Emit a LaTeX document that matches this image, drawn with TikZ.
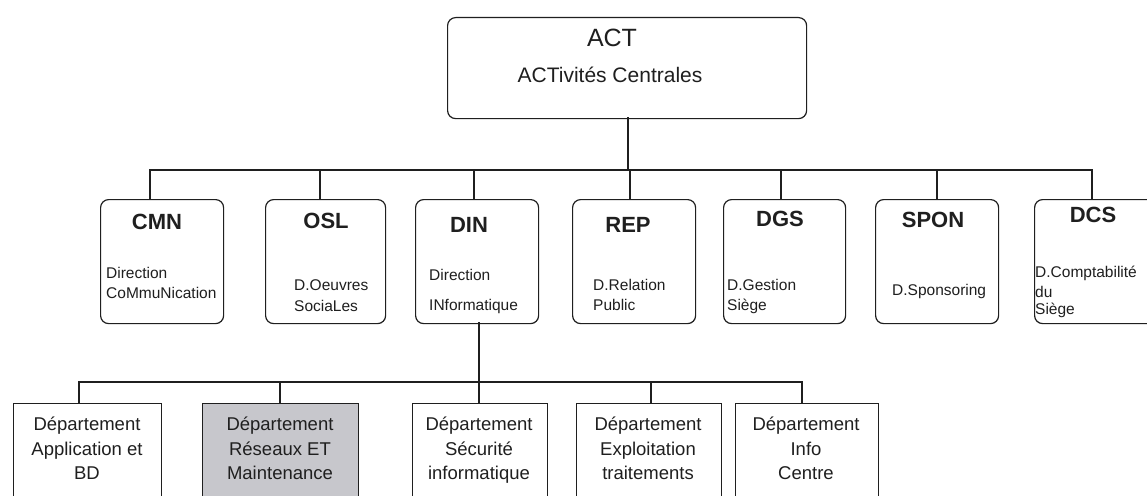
\documentclass[tikz,border=0pt]{standalone}
\usepackage{fontspec}
\setmainfont{Liberation Sans}
\definecolor{inkline}{rgb}{0.12,0.12,0.12}
\definecolor{shade}{rgb}{0.78,0.78,0.80}
\begin{document}
\begin{tikzpicture}[x=1pt,y=-1pt,
  conn/.style={draw=inkline, line width=1.7pt, line cap=rect},
  orgbox/.style={draw=inkline, line width=1.2pt, rounded corners=8pt, inner sep=0pt, anchor=north west},
  deptbox/.style={draw=inkline, line width=1.1pt, inner sep=0pt, anchor=north west},
  headfont/.style={font=\fontsize{25}{30}\selectfont, text=inkline, inner sep=0pt, anchor=base},
  headsub/.style={font=\fontsize{21}{25}\selectfont, text=inkline, inner sep=0pt, anchor=base},
  title/.style={font=\bfseries\fontsize{22}{26}\selectfont, text=inkline, inner sep=0pt, anchor=base},
  sub/.style={font=\fontsize{15.5}{19}\selectfont, text=inkline, inner sep=0pt, anchor=base west},
  dept/.style={font=\fontsize{18.5}{24}\selectfont, text=inkline, inner sep=0pt, anchor=base}
]
\useasboundingbox (0,0) rectangle (1147,495);
\clip (0,0) rectangle (1147,495);
\fill[white] (0,0) rectangle (1147,495);

% ---- top level ----
\node[orgbox, minimum width=359pt, minimum height=101pt] (act) at (447,17) {};
\node[headfont] (actT) at (612,47) {ACT};
\node[headsub] (actS) at (610,82) {ACTivités Centrales};
\coordinate (act-out) at (628,118);

% ---- directions ----
\node[orgbox, minimum width=123pt, minimum height=124pt] (cmn)  at (100,199) {};
\node[orgbox, minimum width=120pt, minimum height=124pt] (osl)  at (265,199) {};
\node[orgbox, minimum width=123pt, minimum height=124pt] (din)  at (415,199) {};
\node[orgbox, minimum width=123pt, minimum height=124pt] (rep)  at (572,199) {};
\node[orgbox, minimum width=122pt, minimum height=124pt] (dgs)  at (723,199) {};
\node[orgbox, minimum width=123pt, minimum height=124pt] (spon) at (875,199) {};
\node[orgbox, minimum width=125pt, minimum height=124pt] (dcs)  at (1034,199) {};

\coordinate (cmn-in)  at (150,199);
\coordinate (osl-in)  at (320,199);
\coordinate (din-in)  at (474,199);
\coordinate (rep-in)  at (630,199);
\coordinate (dgs-in)  at (781,199);
\coordinate (spon-in) at (937,199);
\coordinate (dcs-in)  at (1092,199);
\coordinate (din-out) at (479,323);
\coordinate (busA) at (0,170);
\coordinate (busB) at (0,382);

\node[title] (cmnT)  at (157,229) {CMN};
\node[sub]   (cmnA)  at (106,278) {Direction};
\node[sub]   (cmnB)  at (106,298) {CoMmuNication};

\node[title] (oslT)  at (326,228) {OSL};
\node[sub]   (oslA)  at (294,290) {D.Oeuvres};
\node[sub]   (oslB)  at (294,311) {SociaLes};

\node[title] (dinT)  at (469,232) {DIN};
\node[sub]   (dinA)  at (429,280) {Direction};
\node[sub]   (dinB)  at (429,310) {INformatique};

\node[title] (repT)  at (628,232) {REP};
\node[sub]   (repA)  at (593,290) {D.Relation};
\node[sub]   (repB)  at (593,310) {Public};

\node[title] (dgsT)  at (780,226) {DGS};
\node[sub]   (dgsA)  at (727,290) {D.Gestion};
\node[sub]   (dgsB)  at (727,310) {Siège};

\node[title] (sponT) at (933,227) {SPON};
\node[sub]   (sponA) at (892,295) {D.Sponsoring};

\node[title] (dcsT)  at (1093,222) {DCS};
\node[sub]   (dcsA)  at (1035,277) {D.Comptabilité};
\node[sub]   (dcsB)  at (1035,297) {du};
\node[sub]   (dcsC)  at (1035,314) {Siège};

% ---- departments of DIN ----
\node[deptbox, minimum width=148pt, minimum height=120pt] (app)  at (13,403) {};
\node[deptbox, fill=shade, minimum width=156pt, minimum height=120pt] (res) at (202,403) {};
\node[deptbox, minimum width=135pt, minimum height=120pt] (sec)  at (412,403) {};
\node[deptbox, minimum width=145pt, minimum height=120pt] (expl) at (576,403) {};
\node[deptbox, minimum width=143pt, minimum height=120pt] (info) at (735,403) {};

\coordinate (app-in)  at (79,403);
\coordinate (res-in)  at (280,403);
\coordinate (sec-in)  at (479,403);
\coordinate (expl-in) at (651,403);
\coordinate (info-in) at (802,403);

\node[dept] (appA) at (87,430) {Département};
\node[dept] (appB) at (87,455) {Application et};
\node[dept] (appC) at (87,479) {BD};

\node[dept] (resA) at (280,430) {Département};
\node[dept] (resB) at (280,455) {Réseaux ET};
\node[dept] (resC) at (280,479) {Maintenance};

\node[dept] (secA) at (479,430) {Département};
\node[dept] (secB) at (479,455) {Sécurité};
\node[dept] (secC) at (479,479) {informatique};

\node[dept] (explA) at (648,430) {Département};
\node[dept] (explB) at (648,455) {Exploitation};
\node[dept] (explC) at (648,479) {traitements};

\node[dept] (infoA) at (806,430) {Département};
\node[dept] (infoB) at (806,455) {Info};
\node[dept] (infoC) at (806,479) {Centre};

% ---- connectors ----
\foreach \c in {cmn,osl,din,rep,dgs,spon,dcs}
  \draw[conn] (act-out) |- (\c-in |- busA) -- (\c-in);
\foreach \c in {app,res,sec,expl,info}
  \draw[conn] (din-out) |- (\c-in |- busB) -- (\c-in);
\end{tikzpicture}
\end{document}
